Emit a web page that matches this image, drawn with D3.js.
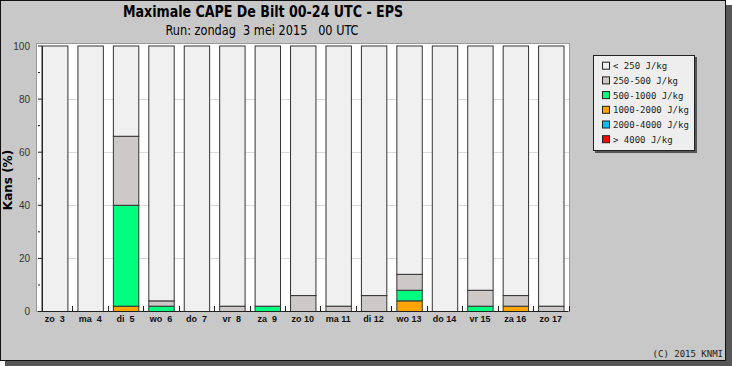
<!DOCTYPE html>
<html>
<head>
<meta charset="utf-8">
<script src="https://cdn.jsdelivr.net/npm/d3@7"></script>
<style>
  body { margin: 0; background: #fff; }
  svg { display: block; }
</style>
</head>
<body>
<div id="chart"></div>
<script>
// dagen van de run
var days = ["zo  3", "ma  4", "di  5", "wo  6", "do  7", "vr  8", "za  9", "zo 10",
            "ma 11", "di 12", "wo 13", "do 14", "vr 15", "za 16", "zo 17"];

// kans (%) per CAPE klasse
var capeLt250   = [100, 100, 34, 96, 100, 98, 98, 94, 98, 94, 86, 100, 92, 94, 98];
var cape250     = [0, 0, 26, 2, 0, 2, 0, 6, 2, 6, 6, 0, 6, 4, 2];
var cape500     = [0, 0, 38, 2, 0, 0, 2, 0, 0, 0, 4, 0, 2, 0, 0];
var cape1000    = [0, 0, 2, 0, 0, 0, 0, 0, 0, 0, 4, 0, 0, 2, 0];
var cape2000    = [0, 0, 0, 0, 0, 0, 0, 0, 0, 0, 0, 0, 0, 0, 0];
var capeGt4000  = [0, 0, 0, 0, 0, 0, 0, 0, 0, 0, 0, 0, 0, 0, 0];

var classNames = ["< 250 J/kg", "250-500 J/kg", "500-1000 J/kg", "1000-2000 J/kg", "2000-4000 J/kg", "> 4000 J/kg"];
var classColors = ["#f0f0f0", "#cdc9c9", "#00ff7f", "#ffa500", "#00bfff", "#ff0000"];
var yTicks = [0, 20, 40, 60, 80, 100];

var W = 732, H = 366;
var svg = d3.select("#chart").append("svg")
    .attr("width", W)
    .attr("height", H);

// schaduw + paneel
svg.append("rect").attr("x", 5).attr("y", 5).attr("width", 727).attr("height", 361).attr("fill", "#555");
svg.append("rect").attr("x", 0.5).attr("y", 0.5).attr("width", 725).attr("height", 360)
    .attr("fill", "#c8c8c8").attr("stroke", "#111");

// titels
svg.append("text")
    .attr("x", 263).attr("y", 17)
    .attr("text-anchor", "middle")
    .attr("font-family", "DejaVu Sans Condensed, DejaVu Sans, sans-serif")
    .attr("font-weight", "bold")
    .attr("font-size", 16)
    .attr("textLength", 280)
    .attr("lengthAdjust", "spacingAndGlyphs")
    .text("Maximale CAPE De Bilt 00-24 UTC - EPS");
svg.append("text")
    .attr("x", 262).attr("y", 35)
    .attr("text-anchor", "middle")
    .attr("font-family", "DejaVu Sans Condensed, DejaVu Sans, sans-serif")
    .attr("font-size", 14)
    .attr("textLength", 193)
    .attr("lengthAdjust", "spacingAndGlyphs")
    .style("white-space", "pre")
    .text("Run: zondag  3 mei 2015   00 UTC");

// plotgebied
var y = d3.scaleLinear().domain([0, 100]).range([311.5, 46]);
var x = d3.scaleBand().domain(days).range([42, 563.5]).paddingInner(0.283).paddingOuter(0);

svg.append("rect").attr("x", 36.5).attr("y", 43.5).attr("width", 533).attr("height", 268)
    .attr("fill", "#fff").attr("stroke", "#999");

// rasterlijnen
svg.selectAll(".grid")
    .data(yTicks.slice(1, 5))
  .enter().append("line")
    .attr("x1", 42).attr("x2", 569)
    .attr("y1", function(d) {return Math.round(y(d)) + 0.5;})
    .attr("y2", function(d) {return Math.round(y(d)) + 0.5;})
    .attr("stroke", "#dcdcdc");

// gestapelde staven, hoogste klasse onderaan
var series = [capeLt250, cape250, cape500, cape1000, cape2000, capeGt4000];
var rows = days.map(function(d, i) {
    var r = {day: d};
    series.forEach(function(s, k) { r["c" + k] = s[i]; });
    return r;
});
var keys = ["c5", "c4", "c3", "c2", "c1", "c0"];
var stacked = d3.stack().keys(keys)(rows);

svg.append("g").selectAll("g")
    .data(stacked)
  .enter().append("g")
    .attr("fill", function(d) {return classColors[+d.key.slice(1)];})
  .selectAll("rect")
    .data(function(d) {return d.filter(function(p) {return p[1] - p[0] > 0;});})
  .enter().append("rect")
    .attr("x", function(d) {return x(d.data.day) + 0.5;})
    .attr("y", function(d) {return y(d[1]);})
    .attr("width", x.bandwidth())
    .attr("height", function(d) {return y(d[0]) - y(d[1]);})
    .attr("stroke", "#333")
    .attr("stroke-width", 1);

// y-as
var yAxis = svg.append("g").attr("font-family", "Liberation Sans, sans-serif");
yAxis.append("line").attr("x1", 42).attr("x2", 42).attr("y1", 46).attr("y2", 311.5).attr("stroke", "#222");
yAxis.selectAll(".maj")
    .data(yTicks)
  .enter().append("line")
    .attr("x1", 38).attr("x2", 42)
    .attr("y1", function(d) {return y(d);})
    .attr("y2", function(d) {return y(d);})
    .attr("stroke", "#222");
yAxis.selectAll(".minor")
    .data([10, 30, 50, 70, 90])
  .enter().append("line")
    .attr("x1", 38).attr("x2", 40)
    .attr("y1", function(d) {return y(d);})
    .attr("y2", function(d) {return y(d);})
    .attr("stroke", "#222");
yAxis.selectAll("text")
    .data(yTicks)
  .enter().append("text")
    .attr("x", 30).attr("y", function(d) {return y(d) + 3.5;})
    .attr("text-anchor", "end")
    .attr("font-size", 10)
    .attr("fill", "#333")
    .text(function(d) {return d;});
svg.append("text")
    .attr("transform", "translate(12,180) rotate(-90)")
    .attr("text-anchor", "middle")
    .attr("font-family", "DejaVu Sans, sans-serif")
    .attr("font-weight", "bold")
    .attr("font-size", 12)
    .text("Kans (%)");

// x-as
var xAxis = svg.append("g");
xAxis.append("line").attr("x1", 42).attr("x2", 568).attr("y1", 311.5).attr("y2", 311.5).attr("stroke", "#222");
xAxis.selectAll(".tk")
    .data(days)
  .enter().append("line")
    .attr("x1", function(d) {return Math.round(x(d) + x.bandwidth() + x.step() * x.paddingInner() / 2) + 0.5;})
    .attr("x2", function(d) {return Math.round(x(d) + x.bandwidth() + x.step() * x.paddingInner() / 2) + 0.5;})
    .attr("y1", 306).attr("y2", 311.5)
    .attr("stroke", "#222");
xAxis.selectAll("text")
    .data(days)
  .enter().append("text")
    .attr("x", function(d) {return x(d) + x.bandwidth() / 2;})
    .attr("y", 322)
    .attr("text-anchor", "middle")
    .attr("font-family", "Liberation Sans, sans-serif")
    .attr("font-weight", "bold")
    .attr("font-size", 9)
    .attr("fill", "#111")
    .style("white-space", "pre")
    .text(function(d) {return d;});

// legenda
var leg = svg.append("g").attr("transform", "translate(593,55)");
leg.append("rect").attr("x", 2).attr("y", 2).attr("width", 102).attr("height", 96).attr("fill", "#555");
leg.append("rect").attr("x", 0.5).attr("y", 0.5).attr("width", 101).attr("height", 95)
    .attr("fill", "#eeeeee").attr("stroke", "#222");
var item = leg.selectAll(".item")
    .data(classNames)
  .enter().append("g")
    .attr("transform", function(d, i) {return "translate(0," + (10.7 + i * 14.7) + ")";});
item.append("rect")
    .attr("x", 9.5).attr("y", -3.5).attr("width", 7).attr("height", 7)
    .attr("fill", function(d, i) {return classColors[i];})
    .attr("stroke", "#222");
item.append("text")
    .attr("x", 20).attr("y", 3.5)
    .attr("font-family", "DejaVu Sans Mono, monospace")
    .attr("font-size", 9)
    .attr("fill", "#222")
    .style("white-space", "pre")
    .text(function(d) {return d;});

svg.append("text")
    .attr("x", 723).attr("y", 357)
    .attr("text-anchor", "end")
    .attr("font-family", "DejaVu Sans Mono, monospace")
    .attr("font-size", 9)
    .attr("fill", "#222")
    .text("(C) 2015 KNMI");
</script>
</body>
</html>
